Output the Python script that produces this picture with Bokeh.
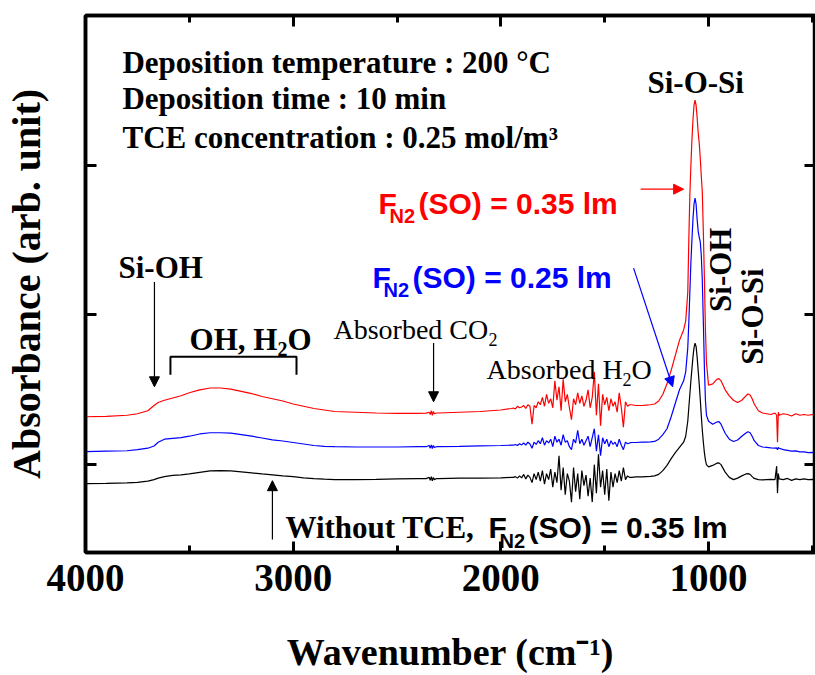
import math
from bokeh.plotting import figure
from bokeh.models import (Range1d, LinearAxis, FixedTicker, Label, Arrow, NormalHead,
                          CustomJSTickFormatter)
from bokeh.embed import file_html
from bokeh.resources import INLINE

# ---------------- data ----------------
wavenumber = (
    [4000, 3900, 3800, 3750, 3700, 3670, 3650, 3620, 3580, 3540,
     3500, 3450, 3400, 3350, 3300, 3250, 3200, 3150, 3100, 3050,
     3000, 2950, 2900, 2850, 2800, 2700, 2600, 2500, 2400, 2360,
     2345, 2340, 2335, 2330, 2325, 2320, 2310, 2300, 2200, 2100,
     2000, 1950]
    + [1940, 1930, 1920, 1910, 1900, 1890, 1880, 1870, 1860, 1850,
       1840, 1830, 1820, 1810, 1800, 1790, 1780, 1770, 1760, 1750,
       1740, 1730, 1720, 1710, 1700, 1690, 1680, 1670, 1660, 1650,
       1640, 1630, 1620, 1610, 1600, 1590, 1580, 1570, 1560, 1550,
       1540, 1530, 1520, 1510, 1500, 1490, 1480, 1470, 1460, 1450,
       1440, 1430, 1420, 1410, 1400, 1390, 1380]
    + [1370, 1350, 1320, 1300, 1280, 1260, 1240, 1220, 1200, 1180, 1160, 1140, 1120,
       1110, 1100, 1095, 1090, 1085, 1080, 1075, 1070, 1065, 1060,
       1055, 1050, 1045, 1040, 1035, 1030, 1025, 1020, 1015, 1010,
       1000, 980, 960, 950, 940, 920, 900, 880, 860, 840,
       820, 810, 800, 790, 780, 760, 740, 720, 700, 680,
       672, 668, 664, 660, 640, 620, 600, 580, 560, 540, 520, 500, 490, 485]
)

# F_N2(SO) = 0.35 lm (red)
absorbance_035 = (
    [0.320, 0.322, 0.330, 0.340, 0.360, 0.395, 0.415, 0.430, 0.445, 0.460,
     0.480, 0.500, 0.512, 0.512, 0.505, 0.490, 0.475, 0.455, 0.440, 0.425,
     0.405, 0.390, 0.375, 0.365, 0.355, 0.350, 0.345, 0.342, 0.343, 0.344,
     0.350, 0.335, 0.360, 0.330, 0.355, 0.340, 0.345, 0.345, 0.350, 0.355,
     0.365, 0.375]
    + [0.378, 0.372, 0.390, 0.380, 0.385, 0.395, 0.375, 0.400, 0.390, 0.270,
       0.395, 0.380, 0.420, 0.400, 0.450, 0.390, 0.470, 0.410, 0.440, 0.380,
       0.560, 0.430, 0.520, 0.360, 0.570, 0.420, 0.470, 0.380, 0.300, 0.440,
       0.400, 0.480, 0.410, 0.460, 0.390, 0.430, 0.500, 0.380, 0.450, 0.620,
       0.330, 0.540, 0.260, 0.470, 0.400, 0.450, 0.360, 0.440, 0.390, 0.420,
       0.350, 0.480, 0.380, 0.250, 0.420, 0.390, 0.400]
    + [0.400, 0.395, 0.395, 0.398, 0.400, 0.405, 0.425, 0.470, 0.540, 0.630, 0.730, 0.830, 0.900,
       0.960, 1.150, 1.500, 1.800, 2.000, 2.170, 2.300, 2.400, 2.435, 2.400,
       2.320, 2.220, 2.150, 2.050, 1.930, 1.820, 1.550, 1.250, 0.900, 0.680,
       0.530, 0.540, 0.570, 0.575, 0.560, 0.500, 0.460, 0.430, 0.415, 0.430,
       0.460, 0.472, 0.465, 0.440, 0.405, 0.360, 0.345, 0.340, 0.335, 0.345,
       0.330, 0.150, 0.350, 0.330, 0.340, 0.335, 0.325, 0.340, 0.330, 0.335, 0.330, 0.335, 0.330, 0.332]
)

# F_N2(SO) = 0.25 lm (blue)
absorbance_025 = (
    [0.087, 0.090, 0.093, 0.100, 0.110, 0.125, 0.150, 0.170, 0.175, 0.180,
     0.190, 0.205, 0.213, 0.213, 0.210, 0.200, 0.190, 0.178, 0.165, 0.158,
     0.148, 0.138, 0.128, 0.122, 0.120, 0.118, 0.118, 0.118, 0.120, 0.120,
     0.128, 0.110, 0.132, 0.108, 0.128, 0.115, 0.120, 0.120, 0.122, 0.125,
     0.128, 0.130]
    + [0.130, 0.135, 0.128, 0.140, 0.132, 0.145, 0.130, 0.150, 0.138, 0.110,
       0.150, 0.135, 0.160, 0.140, 0.180, 0.130, 0.160, 0.145, 0.170, 0.120,
       0.190, 0.150, 0.170, 0.130, 0.200, 0.150, 0.160, 0.120, 0.100, 0.170,
       0.145, 0.230, 0.140, 0.170, 0.130, 0.160, 0.190, 0.120, 0.180, 0.240,
       0.090, 0.200, 0.060, 0.180, 0.140, 0.170, 0.120, 0.160, 0.135, 0.150,
       0.120, 0.170, 0.130, 0.100, 0.150, 0.140, 0.145]
    + [0.148, 0.148, 0.150, 0.150, 0.152, 0.155, 0.170, 0.200, 0.240, 0.320, 0.410, 0.500, 0.560,
       0.620, 0.780, 0.950, 1.150, 1.350, 1.500, 1.640, 1.740, 1.780, 1.740,
       1.640, 1.560, 1.520, 1.490, 1.400, 1.230, 0.950, 0.650, 0.430, 0.330,
       0.290, 0.270, 0.285, 0.288, 0.270, 0.210, 0.170, 0.155, 0.165, 0.190,
       0.212, 0.220, 0.213, 0.190, 0.160, 0.128, 0.118, 0.115, 0.112, 0.110,
       0.112, 0.100, 0.115, 0.110, 0.100, 0.095, 0.090, 0.092, 0.085, 0.085, 0.080, 0.082, 0.080, 0.080]
)

# Without TCE, F_N2(SO) = 0.35 lm (black)
absorbance_no_tce = (
    [-0.127, -0.125, -0.122, -0.118, -0.110, -0.100, -0.090, -0.080, -0.072, -0.068,
     -0.062, -0.052, -0.042, -0.040, -0.042, -0.048, -0.055, -0.062, -0.068, -0.075,
     -0.080, -0.088, -0.093, -0.097, -0.100, -0.100, -0.098, -0.095, -0.093, -0.093,
     -0.085, -0.105, -0.080, -0.108, -0.085, -0.100, -0.093, -0.093, -0.090, -0.090,
     -0.088, -0.085]
    + [-0.085, -0.080, -0.090, -0.075, -0.088, -0.065, -0.095, -0.070, -0.085, -0.120,
       -0.060, -0.100, -0.050, -0.110, -0.040, -0.130, -0.060, -0.100, -0.030, -0.150,
       -0.050, -0.120, 0.060, -0.170, -0.020, -0.200, -0.060, -0.110, -0.250, -0.020,
       -0.180, -0.060, -0.230, -0.040, -0.140, -0.070, -0.210, -0.090, -0.250, 0.000,
       -0.190, 0.070, -0.150, -0.040, -0.200, -0.030, -0.240, -0.050, -0.150, -0.060,
       -0.120, -0.040, -0.110, -0.020, -0.100, -0.075, -0.085]
    + [-0.085, -0.082, -0.082, -0.080, -0.078, -0.075, -0.065, -0.040, -0.005, 0.040, 0.080, 0.115, 0.150,
       0.190, 0.290, 0.380, 0.470, 0.560, 0.640, 0.720, 0.780, 0.812, 0.790,
       0.720, 0.630, 0.540, 0.440, 0.330, 0.230, 0.150, 0.080, 0.030, 0.000,
       -0.015, -0.005, 0.010, 0.012, 0.000, -0.050, -0.085, -0.100, -0.090, -0.075,
       -0.062, -0.060, -0.065, -0.080, -0.092, -0.100, -0.102, -0.100, -0.098, -0.100,
       -0.010, -0.190, -0.060, -0.095, -0.100, -0.092, -0.105, -0.095, -0.100, -0.095, -0.100, -0.098, -0.100, -0.100]
)

assert len(wavenumber) == len(absorbance_035) == len(absorbance_025) == len(absorbance_no_tce)

x_major_ticks = [1000, 2000, 3000, 4000]
x_minor_ticks = [500, 1500, 2500, 3500]
y_major_ticks = [0, 1, 2]

SERIF = "Liberation Serif"
SANS = "Liberation Sans"
RED = "#ff0000"
BLUE = "#0000ff"

# ---------------- figure ----------------
p = figure(width=815, height=675, output_backend="svg", toolbar_location=None,
           x_range=Range1d(4000, 485), y_range=Range1d(-0.5867, 3.0),
           min_border_left=85, min_border_right=0, min_border_top=15, min_border_bottom=122)
p.grid.visible = False
p.outline_line_color = "black"
p.outline_line_width = 3.5
p.background_fill_color = "white"
p.border_fill_color = "white"

p.line(wavenumber, absorbance_035, line_color=RED, line_width=1.2)
p.line(wavenumber, absorbance_025, line_color=BLUE, line_width=1.2)
p.line(wavenumber, absorbance_no_tce, line_color="black", line_width=1.2)


def style_axis(ax, ticker, show_labels):
    ax.ticker = ticker
    ax.axis_line_width = 3.5
    ax.axis_line_color = "black"
    ax.major_tick_in = 11
    ax.major_tick_out = 0
    ax.minor_tick_in = 7
    ax.minor_tick_out = 0
    ax.major_tick_line_width = 3
    ax.minor_tick_line_width = 3
    ax.major_tick_line_color = "black"
    ax.minor_tick_line_color = "black"
    if not show_labels:
        ax.formatter = CustomJSTickFormatter(code="return ''")
        ax.major_label_text_font_size = "1px"
        ax.major_label_standoff = 0


xt = FixedTicker(ticks=x_major_ticks, minor_ticks=x_minor_ticks)
yt = FixedTicker(ticks=y_major_ticks, minor_ticks=[])

xb = p.xaxis[0]
style_axis(xb, xt, True)
xb.major_label_text_font = SERIF
xb.major_label_text_font_style = "bold"
xb.major_label_text_font_size = "39px"
xb.major_label_text_color = "black"
xb.major_label_standoff = 12
xb.axis_label = "Wavenumber (cm⁻¹)"
xb.axis_label_text_font = SERIF
xb.axis_label_text_font_style = "bold"
xb.axis_label_text_font_size = "38px"
xb.axis_label_text_color = "black"
xb.axis_label_standoff = 37

yl = p.yaxis[0]
style_axis(yl, yt, False)
yl.axis_label = "Absorbance (arb. unit)"
yl.axis_label_text_font = SERIF
yl.axis_label_text_font_style = "bold"
yl.axis_label_text_font_size = "40px"
yl.axis_label_text_color = "black"
yl.axis_label_standoff = 37

xa = LinearAxis()
style_axis(xa, FixedTicker(ticks=x_major_ticks, minor_ticks=x_minor_ticks), False)
p.add_layout(xa, "above")
yr = LinearAxis()
style_axis(yr, FixedTicker(ticks=y_major_ticks, minor_ticks=[]), False)
p.add_layout(yr, "right")


# ---------------- annotations ----------------
def label(x, y, text, size, font=SERIF, bold=True, color="black", dx=0, dy=0, angle=0):
    p.add_layout(Label(x=x, y=y, text=text, x_offset=dx, y_offset=dy, angle=angle,
                       text_font=font, text_font_style="bold" if bold else "normal",
                       text_font_size=f"{size}px", text_color=color,
                       text_align="left", text_baseline="alphabetic"))


def arrow(x0, y0, x1, y1, color="black"):
    p.add_layout(Arrow(end=NormalHead(size=10, fill_color=color, line_color=color, line_width=1),
                       x_start=x0, y_start=y0, x_end=x1, y_end=y1,
                       line_color=color, line_width=1.2))


label(3822, 2.687, "Deposition temperature : 200 °C", 31)
label(3822, 2.447, "Deposition time : 10 min", 31)
label(3822, 2.187, "TCE concentration : 0.25 mol/m³", 31)

label(1294, 2.553, "Si-O-Si", 31)

label(3841, 1.32, "Si-OH", 31)
arrow(3668, 1.22, 3668, 0.52)

label(3499, 0.833, "OH, H", 31)
label(3499, 0.833, "2", 20, dx=88, dy=-9)
label(3499, 0.833, "O", 31, dx=98)
p.line([3591, 3591, 2984, 2984], [0.60, 0.72, 0.72, 0.60], line_color="black", line_width=2)

label(2806, 0.90, "Absorbed CO", 28, bold=False)
label(2806, 0.90, "2", 18, bold=False, dx=155, dy=-10)
arrow(2324, 0.813, 2324, 0.42)

label(2069, 0.633, "Absorbed H", 28, bold=False)
label(2069, 0.633, "2", 18, bold=False, dx=136, dy=-10)
label(2069, 0.633, "O", 28, bold=False, dx=145)


def fn2(x, y, rest, color, dx0=0):
    label(x, y, "F", 30, font=SANS, color=color, dx=dx0)
    label(x, y, "N2", 20, font=SANS, color=color, dx=dx0 + 11, dy=-13)
    label(x, y, rest, 30, font=SANS, color=color, dx=dx0 + 40)


fn2(2589, 1.747, "(SO) = 0.35 lm", RED)
arrow(1327, 1.84, 1120, 1.84, RED)
fn2(2618, 1.253, "(SO) = 0.25 lm", BLUE)
arrow(1361, 1.313, 1173, 0.52, BLUE)

label(942, 1.02, "Si-OH", 31, angle=math.pi / 2)
label(788, 0.667, "Si-O-Si", 31, angle=math.pi / 2)

label(3037, -0.42, "Without TCE,", 31)
fn2(3037, -0.42, "(SO) = 0.35 lm", "black", dx0=203)
arrow(3100, -0.50, 3100, -0.107)

open("out.html", "w").write(file_html(p, INLINE))
